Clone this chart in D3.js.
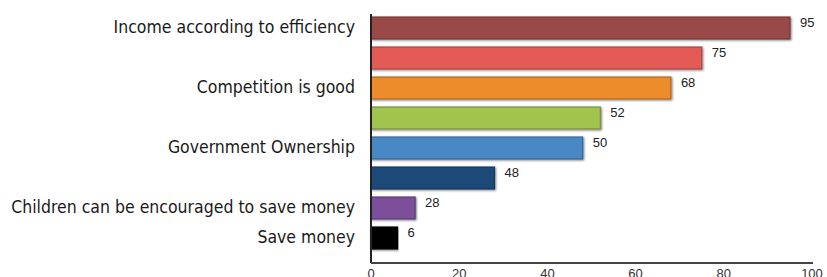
<!DOCTYPE html>
<html>
<head>
<meta charset="utf-8">
<script src="https://cdn.jsdelivr.net/npm/d3@7"></script>
<style>
    body { margin: 0; background: #fff; }
    svg { display: block; }
    .cat-label { font-family: "DejaVu Sans Condensed", "DejaVu Sans", sans-serif; font-stretch: condensed; font-size: 17.5px; fill: #1a1a1a; }
    .val-label { font-family: "Liberation Sans", "DejaVu Sans", sans-serif; font-size: 13px; fill: #222; }
    .tick-label { font-family: "Liberation Sans", "DejaVu Sans", sans-serif; font-size: 13px; fill: #333; }
</style>
</head>
<body>
<svg id="chart" width="827" height="277"></svg>
<script>
// Chart data
const categories = [
    "Income according to efficiency",
    "",
    "Competition is good",
    "",
    "Government Ownership",
    "",
    "Children can be encouraged to save money",
    "Save money"
];
const barValues = [95, 75, 68, 52, 48, 28, 10, 6];   // bar lengths as drawn
const valueLabels = ["95", "75", "68", "52", "50", "48", "28", "6"]; // numbers printed beside bars
const barColors = ["#9a4a48", "#e35a56", "#ec8c2c", "#a1c450", "#4688c5", "#1f4a77", "#7b509a", "#000000"];
const xTicks = [0, 20, 40, 60, 80, 100];

const svg = d3.select("#chart");

const x = d3.scaleLinear()
    .domain([0, 100])
    .range([371, 812]);

const y = d3.scaleBand()
    .domain(d3.range(categories.length))
    .range([13, 253])
    .paddingInner(0.27)
    .paddingOuter(0.135);

// Soft shadow behind bars
const defs = svg.append("defs");
const blur = defs.append("filter").attr("id", "soft").attr("x", "-5%").attr("y", "-20%").attr("width", "110%").attr("height", "140%");
blur.append("feGaussianBlur").attr("in", "SourceAlpha").attr("stdDeviation", 0.8).attr("result", "b");
blur.append("feOffset").attr("in", "b").attr("dx", 0.5).attr("dy", 0.5).attr("result", "o");
blur.append("feComponentTransfer").attr("in", "o").attr("result", "s")
    .append("feFuncA").attr("type", "linear").attr("slope", 0.5);
const merge = blur.append("feMerge");
merge.append("feMergeNode").attr("in", "s");
merge.append("feMergeNode").attr("in", "SourceGraphic");

// Bars
svg.append("g")
    .selectAll("rect")
    .data(barValues)
    .enter()
    .append("rect")
    .attr("x", x(0))
    .attr("y", (d, i) => y(i))
    .attr("width", d => x(d) - x(0))
    .attr("height", y.bandwidth())
    .attr("fill", (d, i) => barColors[i])
    .attr("stroke", (d, i) => d3.color(barColors[i]).darker(0.8))
    .attr("stroke-width", 1.2)
    .attr("filter", "url(#soft)");

// Value labels
svg.append("g")
    .selectAll("text")
    .data(barValues)
    .enter()
    .append("text")
    .attr("class", "val-label")
    .attr("x", d => x(d) + 10)
    .attr("y", (d, i) => y(i) + 10)
    .text((d, i) => valueLabels[i]);

// Category labels
svg.append("g")
    .selectAll("text")
    .data(categories)
    .enter()
    .append("text")
    .attr("class", "cat-label")
    .attr("x", 355)
    .attr("y", (d, i) => y(i) + y.bandwidth() / 2 - 1)
    .attr("dy", "0.35em")
    .attr("text-anchor", "end")
    .text(d => d);

// Axes lines
svg.append("line")
    .attr("x1", x(0)).attr("x2", x(0))
    .attr("y1", 14).attr("y2", 263)
    .attr("stroke", "#222")
    .attr("stroke-width", 2);

svg.append("line")
    .attr("x1", x(0)).attr("x2", x(100) + 1)
    .attr("y1", 263).attr("y2", 263)
    .attr("stroke", "#444")
    .attr("stroke-width", 2);

// X tick labels
svg.append("g")
    .selectAll("text")
    .data(xTicks)
    .enter()
    .append("text")
    .attr("class", "tick-label")
    .attr("x", d => x(d))
    .attr("y", 278)
    .attr("text-anchor", "middle")
    .text(d => d);
</script>
</body>
</html>
